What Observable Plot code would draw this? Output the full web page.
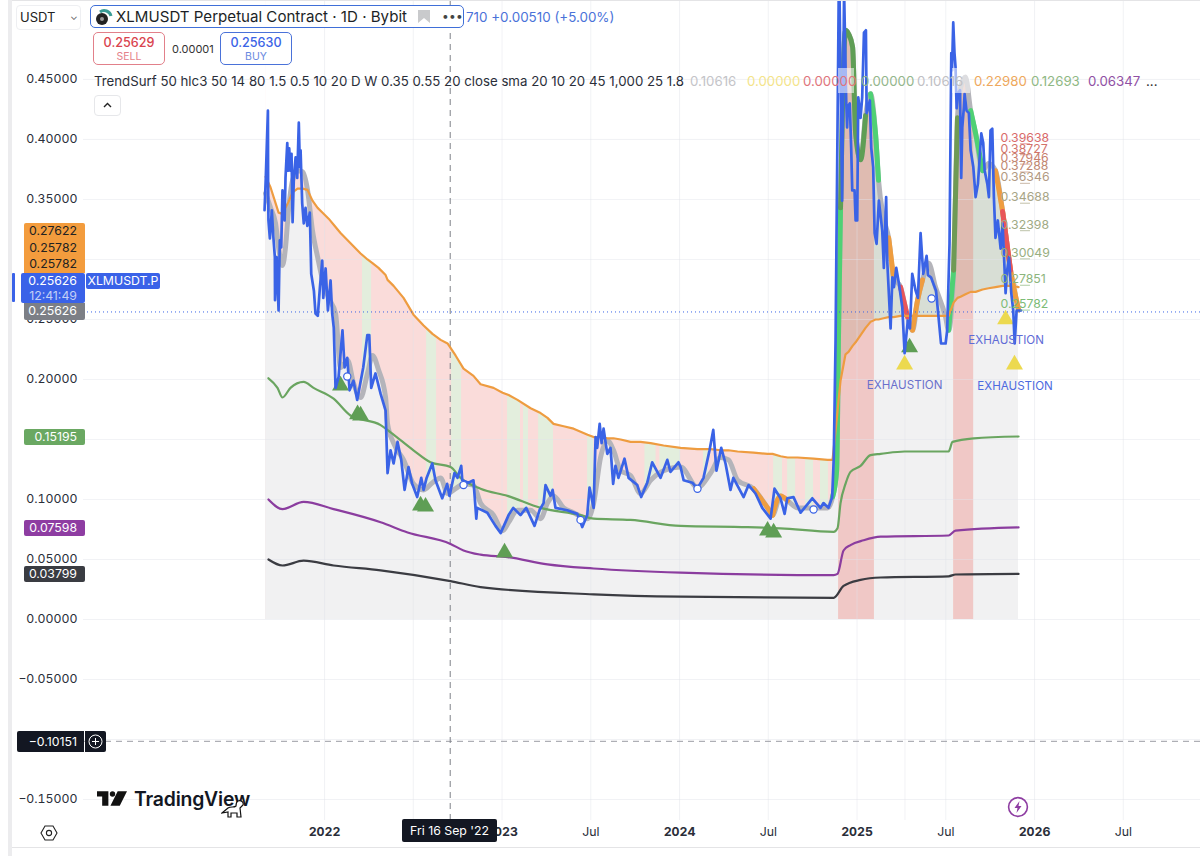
<!DOCTYPE html>
<html><head><meta charset="utf-8">
<script src="https://cdn.jsdelivr.net/npm/d3@7"></script>
<script src="https://cdn.jsdelivr.net/npm/@observablehq/plot@0.6"></script>
<style>
html,body{margin:0;padding:0;background:#fff;overflow:hidden}
#wrap{position:relative;width:1200px;height:856px;font-family:Inter,sans-serif;color:#222}
#wrap svg{display:block}
.o{position:absolute;white-space:nowrap;box-sizing:border-box}
.b{position:absolute;left:24px;width:61px;height:16.5px;line-height:16.5px;font-size:12.3px;text-align:right;padding-right:8px;box-sizing:border-box}
.lv{position:absolute;top:74px;font-size:13.25px;line-height:15px}
</style></head><body><div id="wrap"></div>
<script>
// decimal years and prices
const priceYears=[
2021.662,2021.669,2021.681,2021.682,2021.684,2021.692,2021.703,2021.711,2021.720,2021.721,2021.730,2021.741,2021.748,2021.756,2021.763,2021.775,2021.780,2021.790,2021.795,2021.801,2021.808,2021.814,2021.820,2021.827,2021.837,2021.846,2021.855,2021.861,2021.865,2021.874,2021.883,2021.893,2021.903,2021.917,2021.925,2021.940,2021.949,2021.962,2021.974,2021.987,2021.993,2022.006,2022.019,2022.034,2022.043,2022.052,
2022.062,2022.079,2022.101,2022.113,2022.128,2022.141,2022.163,2022.184,2022.218,2022.241,2022.252,2022.263,2022.287,2022.316,2022.344,2022.355,2022.372,2022.389,2022.411,2022.432,2022.451,2022.473,2022.494,2022.522,2022.545,2022.558,2022.575,2022.607,2022.625,2022.663,2022.691,2022.704,2022.732,2022.749,2022.770,2022.776,2022.811,2022.839,2022.855,2022.860,2022.917,2022.963,2022.992,2023.037,2023.063,2023.104,2023.136,2023.183,2023.211,2023.234,2023.245,2023.273,2023.285,2023.301,2023.367,2023.424,2023.452,2023.480,2023.493,2023.516,2023.527,2023.536,2023.550,2023.561,2023.572,2023.593,2023.611,2023.626,2023.639,2023.656,2023.690,2023.713,2023.762,2023.784,2023.818,2023.846,2023.893,2023.931,2023.949,2023.994,2024.006,2024.023,2024.072,2024.100,2024.135,2024.169,2024.190,2024.208,2024.235,2024.259,2024.287,2024.303,2024.361,2024.389,2024.428,2024.466,2024.513,2024.535,2024.569,2024.592,2024.607,2024.642,2024.682,2024.748,2024.794,2024.811,2024.839,2024.860,
2024.869,2024.879,2024.888,2024.897,2024.901,2024.916,2024.927,2024.939,2024.944,2024.948,2024.959,2024.967,2024.973,2024.986,2024.992,2025.001,2025.007,2025.020,2025.029,2025.039,2025.050,2025.054,2025.072,2025.080,2025.091,2025.099,2025.110,2025.123,2025.142,2025.151,2025.164,2025.170,2025.189,2025.199,2025.208,2025.221,2025.236,2025.255,2025.268,2025.286,2025.298,2025.311,2025.330,2025.343,2025.358,2025.373,2025.392,2025.400,2025.417,
2025.445,2025.473,2025.499,2025.508,2025.521,2025.531,2025.535,2025.542,2025.549,2025.555,2025.561,2025.568,2025.580,2025.587,2025.593,2025.602,2025.606,2025.617,2025.630,2025.640,2025.655,2025.668,2025.681,2025.700,2025.711,2025.719,2025.734,2025.743,2025.752,2025.762,2025.771,2025.780,2025.793,2025.809,2025.820,2025.837,2025.846,2025.856,2025.869,2025.880,2025.888,2025.899,2025.924];
const priceValues=[
.341,.368,.424,.366,.3325,.3175,.341,.320,.302,.266,.302,.2575,.316,.310,.3575,.3325,.368,.397,.374,.3925,.374,.388,.331,.368,.385,.368,.414,.377,.391,.347,.330,.343,.328,.339,.288,.274,.255,.253,.277,.299,.268,.2925,.2575,.2825,.255,.243,
.193,.202,.241,.210,.218,.191,.199,.183,.210,.237,.237,.193,.205,.188,.174,.122,.141,.130,.148,.133,.108,.127,.113,.102,.118,.108,.118,.130,.116,.101,.113,.103,.122,.118,.128,.116,.114,.116,.084,.093,.089,.078,.072,.087,.093,.087,.093,.078,.091,.097,.112,.103,.108,.093,.091,.088,.077,.087,.110,.093,.152,.143,.163,.147,.159,.138,.143,.113,.128,.118,.134,.118,.112,.102,.114,.131,.118,.133,.123,.131,.127,.116,.114,.109,.118,.141,.158,.124,.143,.130,.108,.118,.102,.112,.105,.093,.084,.109,.101,.088,.101,.102,.089,.101,.093,.097,.093,.102,
.135,.2325,.377,.524,.524,.349,.524,.4325,.410,.427,.430,.393,.3575,.3575,.3325,.3325,.435,.418,.435,.489,.491,.422,.4325,.393,.377,.322,.313,.349,.324,.293,.352,.299,.2425,.285,.277,.293,.280,.260,.222,.249,.2425,.288,.274,.268,.322,.288,.303,.287,.285,
.274,.230,.230,.241,.313,.472,.4575,.4975,.472,.460,.426,.438,.441,.368,.410,.427,.438,.424,.422,.391,.377,.352,.363,.405,.397,.374,.363,.352,.4075,.409,.352,.318,.3325,.309,.330,.272,.291,.302,.272,.2575,.230,.2575,.2575];
// smoothed trend (grey) and long trend (orange), same dates
const smoothYears=[2021.668,2021.696,2021.724,2021.741,2021.763,2021.780,2021.797,2021.820,2021.848,2021.876,2021.904,2021.932,2021.961,2021.989,2022.023,2022.062,2022.090,2022.130,2022.163,2022.203,2022.242,2022.270,2022.304,2022.344,2022.355,2022.389,2022.445,2022.501,2022.558,2022.608,2022.654,2022.693,2022.738,2022.783,2022.839,2022.879,2022.952,2023.003,2023.037,2023.087,2023.161,2023.217,2023.256,2023.290,2023.347,2023.403,2023.482,2023.516,2023.555,2023.594,2023.628,2023.668,2023.724,2023.780,2023.837,2023.910,2024.006,2024.101,2024.175,2024.231,2024.276,2024.327,2024.417,2024.496,2024.524,2024.569,2024.609,2024.665,2024.755,2024.834,2024.862,2024.885,2024.896,2024.907,2024.935,2024.952,2024.975,2024.992,2025.020,2025.048,2025.076,2025.104,2025.121,2025.149,2025.178,2025.206,2025.245,2025.285,2025.313,2025.341,2025.369,2025.403,2025.442,2025.499,2025.516,2025.544,2025.566,2025.583,2025.611,2025.640,2025.668,2025.707,2025.741,2025.780,2025.820,2025.865,2025.910];
const smoothValues=[.355,.343,.330,.310,.295,.310,.341,.366,.374,.373,.358,.324,.302,.283,.268,.255,.210,.216,.197,.185,.205,.220,.208,.185,.163,.147,.133,.113,.108,.114,.118,.105,.109,.113,.112,.097,.087,.074,.081,.091,.091,.084,.097,.103,.093,.089,.084,.097,.135,.149,.141,.124,.120,.105,.116,.124,.127,.110,.122,.135,.133,.116,.109,.093,.087,.103,.099,.093,.093,.093,.102,.124,.241,.343,.491,.488,.477,.405,.383,.420,.438,.405,.366,.335,.318,.285,.277,.252,.241,.266,.283,.297,.277,.252,.241,.291,.418,.443,.452,.424,.405,.374,.380,.374,.340,.291,.258];
const orangeValues=[.369,.360,.347,.339,.338,.343,.348,.356,.359,.359,.358,.349,.343,.339,.334,.327,.322,.316,.311,.305,.300,.297,.293,.287,.283,.278,.268,.254,.245,.238,.233,.230,.220,.209,.203,.196,.193,.189,.187,.183,.176,.172,.168,.163,.161,.159,.154,.152,.152,.151,.151,.150,.148,.148,.147,.145,.143,.142,.142,.141,.141,.140,.139,.138,.138,.136,.135,.135,.134,.133,.133,.166,.183,.199,.221,.223,.228,.231,.237,.243,.248,.250,.250,.251,.252,.252,.253,.253,.253,.253,.253,.253,.253,.253,.253,.264,.268,.269,.271,.273,.273,.275,.276,.277,.278,.278,.277];
const greenYears=[2021.684,2021.735,2021.763,2021.808,2021.882,2021.938,2022.051,2022.146,2022.316,2022.372,2022.501,2022.597,2022.710,2022.766,2022.879,2023.031,2023.217,2023.442,2023.516,2023.724,2024.006,2024.383,2024.569,2024.868,2024.890,2024.907,2024.935,2024.963,2025.020,2025.076,2025.133,2025.268,2025.516,2025.538,2025.657,2025.910];
const greenValues=[.201,.193,.185,.193,.198,.193,.184,.170,.162,.156,.141,.131,.127,.118,.109,.103,.093,.087,.084,.083,.078,.077,.076,.073,.076,.097,.113,.123,.128,.137,.138,.140,.140,.148,.151,.1525];
const purpleYears=[2021.684,2021.763,2021.882,2022.051,2022.316,2022.468,2022.710,2022.783,2022.879,2023.031,2023.256,2023.516,2024.006,2024.868,2024.890,2024.924,2024.963,2025.037,2025.133,2025.516,2025.555,2025.910];
const purpleValues=[.100,.092,.098,.092,.081,.0725,.063,.0575,.054,.052,.046,.0425,.039,.037,.038,.0575,.062,.066,.069,.070,.074,.0767];
const blackYears=[2021.684,2021.763,2021.882,2022.051,2022.316,2022.710,2022.879,2023.516,2024.006,2024.868,2024.924,2025.020,2025.133,2025.516,2025.555,2025.910];
const blackValues=[.050,.045,.049,.045,.041,.032,.027,.021,.019,.018,.028,.033,.035,.036,.0375,.038];
// stripes
const pinkSpan=[2021.668,2024.896];
const greySpan=[2024.896,2025.910];
const greenStripeFrom=[2022.214,2022.575,2022.716,2023.031,2023.121,2023.206,2023.482,2023.805,2023.889,2024.135,2024.530,2024.609,2024.710,2024.794];
const greenStripeTo=[2022.265,2022.631,2022.772,2023.104,2023.149,2023.290,2023.516,2023.868,2024.006,2024.163,2024.580,2024.654,2024.755,2024.839];
const redStripeFrom=[2024.896,2025.544];
const redStripeTo=[2025.098,2025.657];
// coloured pieces of the smoothed trend
const segFrom=[2024.417,2024.524,2024.862,2024.907,2025.076,2025.178,2025.245,2025.313,2025.516,2025.544,2025.640,2025.780,2025.820];
const segTo=[2024.524,2024.609,2024.907,2025.048,2025.121,2025.206,2025.285,2025.369,2025.544,2025.566,2025.707,2025.910,2025.865];
const segColor=["#ef9d3f","#ef9d3f","#4fd174","#5f9e55","#4fd174","#ef9d3f","#e8565a","#ef9d3f","#4fd174","#6f9a55","#4fd174","#ef9d3f","#e8565a"];
// signals
const greenTriYears=[2022.090,2022.186,2022.203,2022.541,2022.569,2023.014,2024.496,2024.530,2025.296];
const greenTriValues=[.195,.171,.170,.095,.094,.0558,.074,.0725,.2267];
const yellowTriYears=[2025.268,2025.837,2025.887];
const yellowTriValues=[.2125,.250,.2125];
const circleYears=[2022.128,2022.783,2023.442,2024.101,2024.755,2025.420];
const circleValues=[.2025,.112,.083,.109,.0917,.2675];
const exhaustYears=[2025.268,2025.840,2025.890];
const exhaustValues=[.195,.2325,.194];
const exhaustColors=["#6a70cc","#5f6bd6","#4d6ae0"];
// right-hand levels
const levelValues=[.39638,.38727,.37946,.37288,.36346,.34688,.32398,.30049,.27851,.25782];
const levelColors=["#d96a6a","#d2736a","#c87f6e","#c08872","#b29a82","#a8a585","#a0aa84","#98ae80","#8cb57c","#7cbc76"];
// axes
const gridTicks=[-.15,-.1,-.05,0,.05,.1,.15,.2,.25,.3,.35,.4,.45];
const priceTicks=[-.15,-.05,0,.05,.1,.2,.25,.35,.4,.45];
const yearTicks=[2022,2023,2024,2025,2026];
const julyTicks=[2022.5,2023.5,2024.5,2025.5,2026.5];
const lastPrice=.25626, crossPrice=-.10151, crossYear=2022.708;

const zip=(xs,ys)=>xs.map((x,i)=>({x,y:ys[i]}));
const band=smoothYears.map((x,i)=>({x,s:smoothValues[i],o:orangeValues[i],lo:Math.min(smoothValues[i],orangeValues[i]),hi:Math.max(smoothValues[i],orangeValues[i])}));
const spark=band.filter(d=>d.x>=2024.885);
const stripes=(a,b)=>a.map((x1,i)=>({x1,x2:b[i]}));
const segs=segFrom.map((f,i)=>({f,t:segTo[i],c:segColor[i]}));
const levels=levelValues.map((y,i)=>({y,c:levelColors[i],t:d3.format(".5f")(y)}));

const chart=Plot.plot({
 width:1200,height:856,marginLeft:83,marginRight:0,marginTop:0,marginBottom:36,
 style:{fontFamily:"Inter, sans-serif",background:"#fff"},
 x:{type:"linear",domain:[2020.642,2026.935]},
 y:{domain:[-.1675,.5158]},
 marks:[
  Plot.rect([{x1:pinkSpan[0],x2:pinkSpan[1]}],{x1:"x1",x2:"x2",y1:0,y2:.5158,fill:"#fadcda"}),
  Plot.rect(stripes(greenStripeFrom,greenStripeTo),{x1:"x1",x2:"x2",y1:0,y2:.5158,fill:"#e3eedd"}),
  Plot.rect([{x1:greySpan[0],x2:greySpan[1]}],{x1:"x1",x2:"x2",y1:0,y2:.5158,fill:"#f1f1f2"}),
  Plot.areaY(band.filter(d=>d.x<=2024.896),{x:"x",y1:0,y2:"lo",fill:"#f1f1f2"}),
  Plot.areaY(spark,{x:"x",y1:"o",y2:"hi",fill:"#d8ded5"}),
  Plot.rect(stripes(redStripeFrom,redStripeTo),{x1:"x1",x2:"x2",y1:0,y2:.5158,fill:"#ee6a60",fillOpacity:.3}),
  Plot.areaY(band,{x:"x",y1:"hi",y2:.5158,fill:"#fff"}),
  Plot.gridY(gridTicks,{stroke:"#dfe2e8",strokeOpacity:.45}),
  Plot.gridX(yearTicks.concat(julyTicks,[2025.27]),{stroke:"#dfe2e8",strokeOpacity:.45}),
  Plot.ruleY([crossPrice],{stroke:"#9a9ca3",strokeDasharray:"6,5"}),
  Plot.ruleX([crossYear],{stroke:"#7f8188",strokeDasharray:"6,5"}),
  Plot.line(band,{x:"x",y:"s",stroke:"#b4b4ba",strokeWidth:5,curve:"monotone-x"}),
  ...segs.map(s=>Plot.line(band.filter(d=>d.x>=s.f&&d.x<=s.t),{x:"x",y:"s",stroke:s.c,strokeWidth:5,curve:"monotone-x"})),
  Plot.line(zip(blackYears,blackValues),{x:"x",y:"y",stroke:"#3b3c42",strokeWidth:2.2,curve:"monotone-x"}),
  Plot.line(zip(purpleYears,purpleValues),{x:"x",y:"y",stroke:"#8b3d9f",strokeWidth:2.2,curve:"monotone-x"}),
  Plot.line(zip(greenYears,greenValues),{x:"x",y:"y",stroke:"#6aa560",strokeWidth:2.2,curve:"monotone-x"}),
  Plot.line(band,{x:"x",y:"o",stroke:"#ee9c40",strokeWidth:2.2}),
  Plot.dot(zip(greenTriYears,greenTriValues),{x:"x",y:"y",symbol:"triangle",r:6.3,fill:"#5f9e55"}),
  Plot.dot(zip(yellowTriYears,yellowTriValues),{x:"x",y:"y",symbol:"triangle",r:6.3,fill:"#ecd94f"}),
  Plot.line(zip(priceYears,priceValues),{x:"x",y:"y",stroke:"#3a63e6",strokeWidth:2.7,strokeLinejoin:"round",clip:"frame"}),
  Plot.ruleY([lastPrice],{stroke:"#3a63e6",strokeDasharray:"1,3"}),
  Plot.dot(zip(circleYears,circleValues),{x:"x",y:"y",r:3.6,fill:"#fff",stroke:"#3a63e6",strokeWidth:1.2}),
  Plot.ruleY(levels,{y:"y",x1:2025.921,x2:2025.977,stroke:"c",strokeOpacity:.7}),
  Plot.text(levels,{x:2025.808,y:"y",text:"t",fill:"c",textAnchor:"start",dy:-6,fontSize:12.3}),
  Plot.text(exhaustYears.map((x,i)=>({x,y:exhaustValues[i],c:exhaustColors[i]})),{x:"x",y:"y",text:()=>"EXHAUSTION",fill:"c",fontSize:11.6}),
  Plot.axisY({ticks:priceTicks,tickSize:0,tickPadding:6,label:null,fontSize:12.3,fill:"#2a2e39",tickFormat:v=>d3.format(".5f")(v).replace("-","−")}),
  Plot.axisX({ticks:yearTicks,tickSize:0,tickPadding:7,label:null,fontSize:12.3,fontWeight:700,fill:"#2a2e39",tickFormat:d=>String(d)}),
  Plot.axisX({ticks:julyTicks,tickSize:0,tickPadding:7,label:null,fontSize:12.3,fill:"#2a2e39",tickFormat:()=>"Jul"})
 ]
});
const wrap=document.getElementById("wrap");
wrap.appendChild(chart);
wrap.insertAdjacentHTML("beforeend",`
<div class="o" style="left:8px;top:0;width:4px;height:856px;background:#ececee"></div>
<div class="o" style="left:12px;top:0;width:1188px;height:1px;background:#e4e4e6"></div>
<div class="o" style="left:12px;top:847px;width:1188px;height:1px;background:#e4e4e6"></div>

<div class="o" style="left:16px;top:5px;width:65px;height:25px;border:1px solid #eeeff2;border-radius:4px;background:#fff;font-size:13px;line-height:23px;padding-left:3px">USDT<span style="position:absolute;left:53px;top:-1px;font-size:10px;color:#555">&#8964;</span></div>
<div class="o" style="left:90px;top:5px;width:374px;height:23px;border:1.5px solid #3f6fd8;border-radius:5px;background:#fff"></div>
<svg class="o" style="left:95px;top:7px" width="18" height="19" viewBox="0 0 18 19"><circle cx="7" cy="12" r="6" fill="#222"/><circle cx="7" cy="12" r="2" fill="#999"/><path d="M5 5 A7 7 0 0 1 16 9" fill="none" stroke="#3a9c96" stroke-width="3"/></svg>
<div class="o" style="left:116px;top:7px;font-size:15.1px;line-height:20px;color:#1c1f26">XLMUSDT Perpetual Contract · 1D · Bybit</div>
<svg class="o" style="left:417px;top:10px" width="13" height="14"><path d="M0 0H12V13L6 8L0 13Z" fill="#c9cacc" transform="matrix(-1 0 0 1 13 0)"/></svg>
<div class="o" style="left:442px;top:9px;font-size:12px;line-height:13px;color:#444;letter-spacing:.3px">•••</div>
<div class="o" style="left:466px;top:9px;font-size:13.4px;line-height:16px;color:#4a72d9">710 +0.00510 (+5.00%)</div>

<div class="o" style="left:93px;top:32px;width:72px;height:33px;border:1px solid #e2808a;border-radius:5px;background:#fff;text-align:center"><div style="font-size:12.6px;line-height:15px;margin-top:2px;color:#d9434e;font-weight:500">0.25629</div><div style="font-size:10.5px;line-height:13px;color:#e5828a">SELL</div></div>
<div class="o" style="left:172px;top:42px;font-size:11px;line-height:14px;color:#333">0.00001</div>
<div class="o" style="left:220px;top:32px;width:72px;height:33px;border:1px solid #4a72d9;border-radius:5px;background:#fff;text-align:center"><div style="font-size:12.6px;line-height:15px;margin-top:2px;color:#3a63e6;font-weight:500">0.25630</div><div style="font-size:10.5px;line-height:13px;color:#6a8ae0">BUY</div></div>

<div class="o" style="left:838px;top:68px;width:16px;height:25px;background:rgba(255,255,255,.55)"></div>
<div class="o" style="left:952px;top:68px;width:18px;height:25px;background:rgba(255,255,255,.55)"></div>
<div class="lv" style="left:94px;color:#2a2e39">TrendSurf 50 hlc3 50 14 80 1.5 0.5 10 20 D W 0.35 0.55 20 close sma 20 10 20 45 1,000 25 1.8</div>
<div class="lv" style="left:690px;color:#c4c4c8">0.10616</div>
<div class="lv" style="left:747px;color:#f4e48a">0.00000</div>
<div class="lv" style="left:803px;color:#e0757c">0.00000</div>
<div class="lv" style="left:861px;color:#94b68c">0.00000</div>
<div class="lv" style="left:917px;color:#c0c0c4">0.10616</div>
<div class="lv" style="left:974px;color:#eea85c">0.22980</div>
<div class="lv" style="left:1031px;color:#8fb884">0.12693</div>
<div class="lv" style="left:1088px;color:#9050a4">0.06347</div>
<div class="lv" style="left:1146px;color:#333">...</div>
<div class="o" style="left:94px;top:95px;width:27px;height:21px;border:1px solid #e6e7ea;border-radius:4px;background:#fff"><svg width="25" height="19"><path d="M9 11L12.5 7.5L16 11" fill="none" stroke="#222" stroke-width="1.4"/></svg></div>

<div class="b" style="top:223px;background:#f39c3d;color:#222;border-radius:2px 2px 0 0">0.27622</div>
<div class="b" style="top:239.5px;background:#f39c3d;color:#222">0.25782</div>
<div class="b" style="top:256px;background:#f39c3d;color:#222;height:17px">0.25782</div>
<div class="o" style="left:21px;top:273px;width:64px;height:30px;background:#3a62e8;border-radius:2px;color:#fff;text-align:right;padding-right:8px;font-size:12.3px;line-height:15px">0.25626<div style="color:#c3d0f6">12:41:49</div></div>
<div class="o" style="left:12px;top:273px;width:3px;height:29px;background:#3a62e8;border-radius:1px"></div>
<div class="o" style="left:86px;top:273px;width:74px;height:16px;background:#3a62e8;border-radius:2px;color:#fff;font-size:12.3px;line-height:16px;text-align:center">XLMUSDT.P</div>
<div class="b" style="top:303px;background:#7c7f86;color:#fff;border-radius:0 0 2px 2px">0.25626</div>
<div class="b" style="top:428.5px;background:#6aa862;color:#fff;border-radius:2px">0.15195</div>
<div class="b" style="top:519.5px;background:#8e3da2;color:#fff;border-radius:2px">0.07598</div>
<div class="b" style="top:565.5px;background:#3a3c42;color:#fff;border-radius:2px">0.03799</div>
<div class="o" style="left:17px;top:731px;width:67px;height:21px;background:#131722;border-radius:2px 0 0 2px;color:#fff;font-size:12.3px;line-height:21px;text-align:right;padding-right:7px">−0.10151</div>
<div class="o" style="left:85px;top:731px;width:21px;height:21px;background:#131722;border-radius:0 2px 2px 0"><svg width="21" height="21"><circle cx="10.5" cy="10.5" r="6.5" fill="none" stroke="#fff"/><path d="M10.5 7V14M7 10.5H14" stroke="#fff"/></svg></div>
<div class="o" style="left:402px;top:819px;width:95px;height:23px;background:#131722;border-radius:2px;color:#fff;font-size:12.3px;line-height:23px;text-align:center">Fri 16 Sep '22</div>

<svg class="o" style="left:97px;top:791px" width="30" height="15" viewBox="0 0 29 14"><path d="M0 0H11V14H5V5H0Z" fill="#111"/><circle cx="15" cy="2.6" r="2.6" fill="#111"/><path d="M20 0H29L22 14H13Z" fill="#111"/></svg>
<div class="o" style="left:134px;top:785px;font-size:19.4px;line-height:28px;font-weight:600;color:#131722;letter-spacing:-.2px">TradingView</div>
<svg class="o" style="left:221px;top:799px" width="26" height="20" viewBox="0 0 26 20"><path d="M17 2C20 1 23 3 22 6L19 9L20 18H16V14H10V18H7V13L1 14L7 9C10 7 13 9 15 7C15 5 15 3 17 2Z" fill="#fff" stroke="#111" stroke-width="1.2"/></svg>
<svg class="o" style="left:40px;top:824px" width="18" height="18" viewBox="0 0 18 18"><path d="M5 2H13L17 9L13 16H5L1 9Z" fill="none" stroke="#222" stroke-width="1.1"/><circle cx="9" cy="9" r="2.6" fill="none" stroke="#222" stroke-width="1.1"/></svg>
<svg class="o" style="left:1007px;top:796px" width="22" height="22" viewBox="0 0 22 22"><circle cx="11" cy="11" r="9.4" fill="#fff" stroke="#8e3da2" stroke-width="1.6"/><path d="M12.5 5L7.5 12H10.5L9.5 17L14.5 10H11.5Z" fill="#8e3da2"/></svg>
`);
</script></body></html>
